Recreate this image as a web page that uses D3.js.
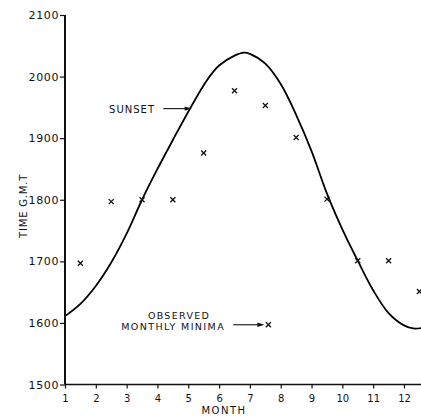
<!DOCTYPE html>
<html><head><meta charset="utf-8">
<script src="https://cdn.jsdelivr.net/npm/d3@7"></script>
<style>body{margin:0;background:#fff}svg{display:block}text{font-family:"DejaVu Sans",sans-serif;fill:#111}</style>
</head><body><svg id="c" width="421" height="416"></svg>
<script>
// Observed monthly minima (month mid-points, time in hours GMT)
const obsMonths = [1.5,2.5,3.5,4.5,5.5,6.5,7.5,8.5,9.5,10.5,11.5,12.5];
const obsTimes  = [16.97,17.97,18.0,18.0,18.76,19.77,19.53,19.01,18.01,17.01,17.01,16.51];
// Sunset curve
const sunMonths = [1,1.5,2,2.5,3,3.5,4,4.5,5,5.5,5.75,6,6.5,6.8,7,7.5,8,8.5,9,9.5,10,10.5,11,11.5,12,12.3,12.6];
const sunTimes  = [16.11,16.31,16.60,16.98,17.45,18.0,18.50,18.97,19.43,19.86,20.04,20.18,20.34,20.39,20.37,20.21,19.88,19.38,18.79,18.10,17.52,17.01,16.53,16.16,15.96,15.91,15.92];
const xTicks = [1,2,3,4,5,6,7,8,9,10,11,12];
const yTicks = [15,16,17,18,19,20,21];
const yTickLabels = ["1500","1600","1700","1800","1900","2000","2100"];

const svg = d3.select("#c");
const x = d3.scaleLinear().domain([1,12]).range([65,404]);
const y = d3.scaleLinear().domain([15,21]).range([384.5,15]);
const xEnd = x.invert(421);

// axes
const yAx = svg.append("g").attr("transform","translate(65,0)")
  .call(d3.axisLeft(y).tickValues(yTicks).tickFormat((d,i)=>yTickLabels[i]).tickSize(5).tickPadding(1));
yAx.select(".domain").remove();
yAx.selectAll("line").attr("stroke","#111").attr("stroke-width",1.2);
yAx.selectAll("text").style("font-size","11px").style("letter-spacing","0.6px").attr("fill","#111");
svg.append("line").attr("x1",65).attr("x2",65).attr("y1",y(21)).attr("y2",y(15)).attr("stroke","#111").attr("stroke-width",2);

const xAx = svg.append("g").attr("transform",`translate(0,${y(15)})`)
  .call(d3.axisBottom(x).tickValues(xTicks).tickSize(4).tickPadding(6));
xAx.select(".domain").remove();
xAx.selectAll("line").attr("stroke","#111").attr("stroke-width",1.2);
xAx.selectAll("text").style("font-size","10px").attr("fill","#111");
svg.append("line").attr("x1",x(1)).attr("x2",x(xEnd)).attr("y1",y(15)).attr("y2",y(15)).attr("stroke","#111").attr("stroke-width",1.6);

svg.append("text").attr("x",224).attr("y",414).attr("text-anchor","middle")
  .style("font-size","10px").style("letter-spacing","1.5px").text("MONTH");
svg.append("text").attr("transform",`translate(27,${y(17.9)}) rotate(-90)`).attr("text-anchor","middle")
  .style("font-size","10px").style("letter-spacing","0.8px").text("TIME G.M.T");

// sunset curve
const line = d3.line().x((d,i)=>x(sunMonths[i])).y(d=>y(d)).curve(d3.curveCatmullRom.alpha(0.5));
svg.append("path").attr("d",line(sunTimes)).attr("fill","none").attr("stroke","#000").attr("stroke-width",1.8);

// markers
function cross(g,cx,cy){
  const s=2.5;
  g.append("path").attr("d",`M${cx-s},${cy-s}L${cx+s},${cy+s}M${cx-s},${cy+s}L${cx+s},${cy-s}`)
   .attr("stroke","#111").attr("stroke-width",1.3).attr("fill","none");
}
const mk = svg.append("g");
obsMonths.forEach((m,i)=>cross(mk,x(m),y(obsTimes[i])));

// annotations
function arrow(x1,x2,yy){
  svg.append("line").attr("x1",x1).attr("x2",x2-4).attr("y1",yy).attr("y2",yy).attr("stroke","#111").attr("stroke-width",1.1);
  svg.append("path").attr("d",`M${x2},${yy}L${x2-7},${yy-2.2}L${x2-7},${yy+2.2}Z`).attr("fill","#111");
}
svg.append("text").attr("x",x(2.43)).attr("y",y(19.47)).attr("dy","0.36em")
  .style("font-size","10px").style("letter-spacing","1px").text("SUNSET");
arrow(x(4.19),x(5.11),y(19.48));

svg.append("text").attr("x",x(4.70)).attr("y",y(16.12)).attr("dy","0.36em").attr("text-anchor","middle")
  .style("font-size","9.5px").style("letter-spacing","1.3px").text("OBSERVED");
svg.append("text").attr("x",x(4.51)).attr("y",y(15.94)).attr("dy","0.36em").attr("text-anchor","middle")
  .style("font-size","9.5px").style("letter-spacing","1.4px").text("MONTHLY MINIMA");
arrow(x(6.46),x(7.47),y(15.97));
cross(svg,x(7.60),y(15.97));
</script></body></html>
